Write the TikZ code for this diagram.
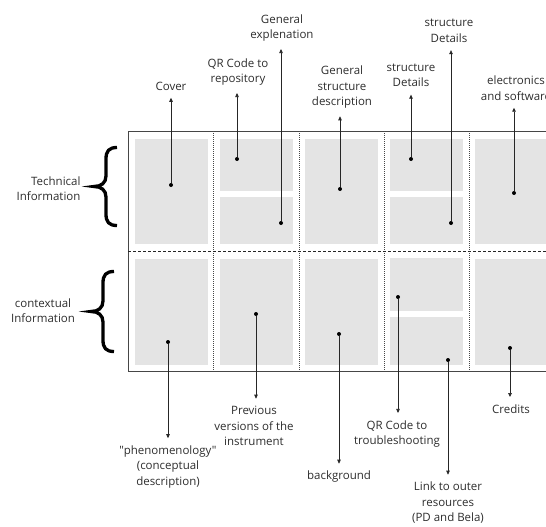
\documentclass[tikz,border=0pt]{standalone}
\usepackage{fontspec}
\setmainfont{Open Sans}[Ligatures=TeXOff]
\usepackage{xcolor}
\definecolor{PanelGray}{RGB}{228,228,228}
\definecolor{FrameGray}{RGB}{70,70,70}
\definecolor{TextGray} {RGB}{45,45,45}
\usetikzlibrary{arrows.meta}

\begin{document}
\begin{tikzpicture}[
  x=1pt, y=-1pt,
  font=\fontsize{11.5}{15.5}\selectfont,
  panel/.style={fill=PanelGray, inner sep=0pt,
    minimum width=73pt},
  fullpanel/.style={panel, minimum height=105pt},
  uppanel/.style={panel, minimum height=52pt},
  lowpanel/.style={panel, minimum height=47pt},
  frameline/.style={draw=FrameGray, line width=0.9pt},
  colsep/.style={draw=FrameGray, line width=0.9pt,
    dash pattern=on 1pt off 1pt},
  rowsep/.style={draw=black!85, line width=1pt,
    dash pattern=on 3pt off 2pt},
  dot/.style={circle, fill=black, inner sep=0pt,
    minimum size=4pt},
  note/.style={text=TextGray, align=center},
  arrow/.style={
    -{Triangle[length=4pt, width=3.5pt]},
    line width=0.7pt, color=black!85,
    shorten >=4pt},
  bracepath/.style={draw=black, line width=3.3pt}
]
\useasboundingbox (0,0) rectangle (546,527);
\clip (0,0) rectangle (546,527);

\node[fullpanel] (techA) at (171.5,191.5) {};
\node[uppanel]   (techBup) at (256.5,165) {};
\node[lowpanel]  (techBlow) at (256.5,220.5) {};
\node[fullpanel] (techC) at (341,191.5) {};
\node[uppanel]   (techDup) at (426.5,165) {};
\node[lowpanel]  (techDlow) at (426.5,220.5) {};
\node[fullpanel] (techE) at (511.5,191.5) {};

\node[fullpanel, minimum height=106pt] (ctxA) at (171.5,312) {};
\node[fullpanel, minimum height=106pt] (ctxB) at (256.5,312) {};
\node[fullpanel, minimum height=106pt] (ctxC) at (341,312) {};
\node[uppanel, minimum height=53pt] (ctxDup) at (426.5,284.5) {};
\node[lowpanel, minimum height=48pt] (ctxDlow) at (426.5,341) {};
\node[fullpanel, minimum height=106pt] (ctxE) at (511.5,312) {};

\draw[frameline] (128,131) rectangle (600,371);
\draw[colsep] (213,131) -- (213,371);
\draw[colsep] (299,131) -- (299,371);
\draw[colsep] (384,131) -- (384,371);
\draw[colsep] (469,131) -- (469,371);
\draw[rowsep] (128,251) -- (600,251);

\node[dot] (dCover) at (171,185) {};
\node[dot] (dQrRepo) at (237,159) {};
\node[dot] (dGenExpl) at (281,223) {};
\node[dot] (dGenStruct) at (340,189) {};
\node[dot] (dStructA) at (411,159) {};
\node[dot] (dStructB) at (451,223) {};
\node[dot] (dElec) at (514,193) {};
\node[dot] (dPheno) at (168,342) {};
\node[dot] (dPrev) at (256,314) {};
\node[dot] (dBack) at (339,334) {};
\node[dot] (dQrTrouble) at (398,297) {};
\node[dot] (dLink) at (448,360) {};
\node[dot] (dCredits) at (510,348) {};

\node[note] (lCover) at (171,86) {Cover};
\node[note] (lQrRepo) at (238,72)
  {QR Code to\\repository};
\node[note] (lGenExpl) at (282,28)
  {General\\explenation};
\node[note] (lGenStruct) at (342,87.5)
  {General\\structure\\description};
\node[note] (lStructA) at (411,75.5)
  {structure\\Details};
\node[note] (lStructB) at (449,31)
  {structure\\Details};
\node[note] (lElec) at (516,88)
  {electronics\\and software};

\node[note] (lPheno) at (168,467)
  {"phenomenology"\\(conceptual\\description)};
\node[note] (lPrev) at (254,426)
  {Previous\\versions of the\\instrument};
\node[note] (lBack) at (339,477) {background};
\node[note] (lQrTrouble) at (397,434)
  {QR Code to\\troubleshooting};
\node[note] (lLink) at (448,503)
  {Link to outer\\resources\\(PD and Bela)};
\node[note] (lCredits) at (511,409) {Credits};

\node[note, align=right, anchor=east] (lTech) at (84,188.5)
  {Technical\\Information};
\node[note] (lCtx) at (43,310.5)
  {contextual\\Information};

\draw[bracepath] (117,147.5) .. controls (109,147.5) and (106,151) .. (106,159)
  -- (106,176) .. controls (106,183) and (101,186.5) .. (94,186.5)
  .. controls (101,186.5) and (106,190) .. (106,197)
  -- (106,214) .. controls (106,222) and (109,225.5) .. (117,225.5);
\draw[bracepath] (114,271.5) .. controls (106,271.5) and (103,275) .. (103,283)
  -- (103,301) .. controls (103,308) and (98,311.5) .. (91,311.5)
  .. controls (98,311.5) and (103,315) .. (103,322)
  -- (103,340) .. controls (103,348) and (106,351.5) .. (114,351.5);

\draw[arrow] (dCover) -- (dCover |- lCover.south);
\draw[arrow] (dQrRepo) -- (dQrRepo |- lQrRepo.south);
\draw[arrow] (dGenExpl) -- (dGenExpl |- lGenExpl.south);
\draw[arrow] (dGenStruct) -- (dGenStruct |- lGenStruct.south);
\draw[arrow] (dStructA) -- (dStructA |- lStructA.south);
\draw[arrow] (dStructB) -- (dStructB |- lStructB.south);
\draw[arrow] (dElec) -- (dElec |- lElec.south);

\draw[arrow] (dPheno) -- (dPheno |- lPheno.north);
\draw[arrow] (dPrev) -- (dPrev |- lPrev.north);
\draw[arrow] (dBack) -- (dBack |- lBack.north);
\draw[arrow] (dQrTrouble) -- (dQrTrouble |- lQrTrouble.north);
\draw[arrow] (dLink) -- (dLink |- lLink.north);
\draw[arrow] (dCredits) -- (dCredits |- lCredits.north);
\end{tikzpicture}
\end{document}
